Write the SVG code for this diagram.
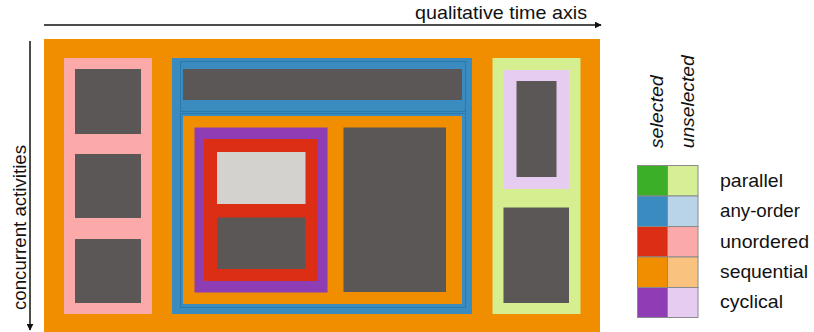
<svg xmlns="http://www.w3.org/2000/svg" width="814" height="332" viewBox="0 0 814 332">
<style>
text{font-family:"Liberation Sans",Arial,sans-serif;font-size:18.5px;fill:#111}
.it{font-style:italic}
.dk{fill:#5B5756}
.or{fill:#F18E00}
.pk{fill:#FBA9A9}
.bl{fill:#3A8BC0}
.pu{fill:#8E3DB5}
.rd{fill:#DC2E14}
.lg{fill:#D3D2CE}
.gn{fill:#D4EE90}
.lv{fill:#E6CCF0}
.ax{stroke:#111;stroke-width:1.5;fill:none}
.cell{stroke:#8A8A8A;stroke-width:1}
.edge{fill:none;stroke:#2C78A8;stroke-width:1}
</style>
<defs>
<marker id="ah" viewBox="0 0 10 10" refX="9" refY="5" markerWidth="7" markerHeight="7" markerUnits="userSpaceOnUse" orient="auto">
<path d="M0,0 L10,5 L0,10 z" fill="#111"/>
</marker>
</defs>
<g id="connectors">
<line class="ax" x1="44" y1="25" x2="601" y2="25" marker-end="url(#ah)"/>
<line class="ax" x1="30" y1="41" x2="30" y2="330" marker-end="url(#ah)"/>
</g>
<text x="415" y="19" textLength="172" lengthAdjust="spacingAndGlyphs">qualitative time axis</text>
<text transform="translate(25.5,227.5) rotate(-90)" text-anchor="middle" textLength="165" lengthAdjust="spacingAndGlyphs">concurrent activities</text>
<g id="root">
<rect class="or" x="44" y="39" width="556" height="293"/>
</g>
<g id="left-unordered">
<rect class="pk" x="64" y="58" width="88" height="256"/>
<rect class="dk" x="75" y="69" width="66" height="65"/>
<rect class="dk" x="75" y="154" width="66" height="64"/>
<rect class="dk" x="75" y="239" width="66" height="64"/>
</g>
<g id="middle-anyorder">
<rect class="bl" x="172" y="58" width="300" height="256"/>
<rect class="edge" x="180.5" y="61.5" width="285" height="50"/>
<rect class="edge" x="180.5" y="113.5" width="285" height="194"/>
<rect class="dk" x="183" y="69" width="279" height="31"/>
<rect class="or" x="183" y="116" width="279" height="188"/>
<rect class="pu" x="194.5" y="127.5" width="133" height="165"/>
<rect class="rd" x="204" y="139" width="114" height="142"/>
<rect class="lg" x="217" y="152" width="88.5" height="52"/>
<rect class="dk" x="217" y="217.5" width="88.5" height="51.5"/>
<rect class="dk" x="343.5" y="127.5" width="102.5" height="164.5"/>
</g>
<g id="right-parallel">
<rect class="gn" x="492.5" y="58" width="88" height="256"/>
<rect class="lv" x="503.5" y="70" width="65.5" height="119"/>
<rect class="dk" x="516.5" y="81" width="40" height="96"/>
<rect class="dk" x="503.5" y="207.5" width="65.5" height="95.5"/>
</g>
<g id="legend">
<text class="it" transform="translate(663,148.3) rotate(-90)" textLength="73" lengthAdjust="spacingAndGlyphs">selected</text>
<text class="it" transform="translate(694,148.3) rotate(-90)" textLength="93" lengthAdjust="spacingAndGlyphs">unselected</text>
<rect class="cell" x="637.5" y="165.5" width="30" height="30.5" fill="#3CAF28"/>
<rect class="cell" x="667.5" y="165.5" width="30.5" height="30.5" fill="#D6EE94"/>
<rect class="cell" x="637.5" y="196" width="30" height="30.5" fill="#3A8BC0"/>
<rect class="cell" x="667.5" y="196" width="30.5" height="30.5" fill="#B9D4E8"/>
<rect class="cell" x="637.5" y="226.5" width="30" height="30.5" fill="#DC2E14"/>
<rect class="cell" x="667.5" y="226.5" width="30.5" height="30.5" fill="#FBA9A9"/>
<rect class="cell" x="637.5" y="257" width="30" height="30.5" fill="#F18E00"/>
<rect class="cell" x="667.5" y="257" width="30.5" height="30.5" fill="#F9C27F"/>
<rect class="cell" x="637.5" y="287.5" width="30" height="30" fill="#8E3DB5"/>
<rect class="cell" x="667.5" y="287.5" width="30.5" height="30" fill="#E6CCF0"/>
<text x="720" y="187" textLength="63" lengthAdjust="spacingAndGlyphs">parallel</text>
<text x="720" y="217" textLength="80" lengthAdjust="spacingAndGlyphs">any-order</text>
<text x="720" y="247.5" textLength="89" lengthAdjust="spacingAndGlyphs">unordered</text>
<text x="720" y="278" textLength="88" lengthAdjust="spacingAndGlyphs">sequential</text>
<text x="720" y="308" textLength="63" lengthAdjust="spacingAndGlyphs">cyclical</text>
</g>
</svg>
